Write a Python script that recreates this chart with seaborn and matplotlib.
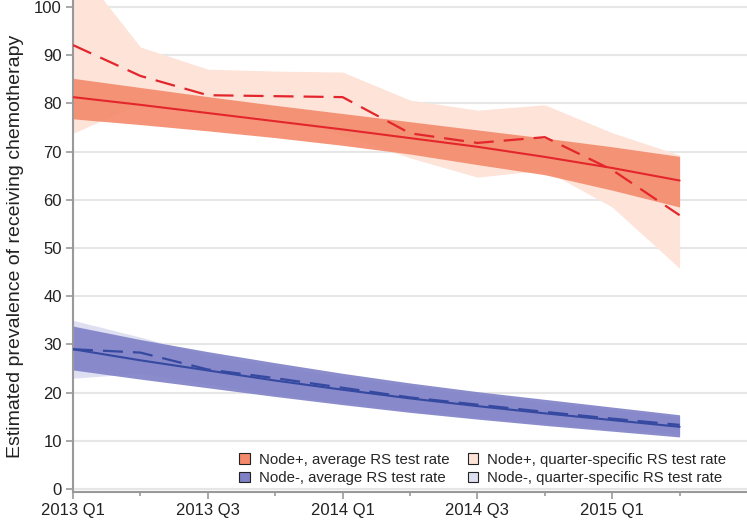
import numpy as np
import pandas as pd
import seaborn as sns
import matplotlib.pyplot as plt
from matplotlib.patches import Patch

# quarters 2013 Q1 .. 2015 Q2
quarters = np.arange(10)
tick_pos = [0, 2, 4, 6, 8]
tick_labels = ['2013 Q1', '2013 Q3', '2014 Q1', '2014 Q3', '2015 Q1']

# Node+, average RS test rate
pos_avg = [81.3, 79.7, 78.0, 76.3, 74.6, 72.8, 71.0, 68.9, 66.6, 64.0]
pos_avg_hi = [85.2, 83.3, 81.4, 79.6, 77.9, 76.2, 74.5, 72.8, 71.0, 69.0]
pos_avg_lo = [76.8, 75.6, 74.3, 72.9, 71.3, 69.5, 67.3, 65.2, 62.0, 58.5]

# Node+, quarter-specific RS test rate
pos_q = [92.1, 85.7, 81.7, 81.5, 81.3, 73.8, 71.8, 73.0, 66.2, 56.8]
pos_q_hi = [109.5, 91.7, 87.1, 86.7, 86.5, 80.7, 78.6, 79.7, 73.9, 69.3]
pos_q_lo = [73.8, 80.0, 78.0, 77.0, 73.5, 68.7, 64.7, 66.2, 58.5, 45.8]

# Node-, average RS test rate
neg_avg = [29.0, 26.7, 24.6, 22.5, 20.6, 18.8, 17.2, 15.7, 14.3, 12.9]
neg_avg_hi = [33.8, 31.0, 28.5, 26.2, 24.0, 22.0, 20.2, 18.6, 17.0, 15.4]
neg_avg_lo = [24.7, 22.8, 21.0, 19.2, 17.5, 15.9, 14.5, 13.2, 12.0, 10.8]

# Node-, quarter-specific RS test rate
neg_q = [29.0, 28.3, 24.8, 23.0, 21.0, 19.0, 17.5, 16.0, 14.6, 13.3]
neg_q_hi = [35.0, 31.5, 27.8, 25.5, 23.3, 21.4, 19.6, 18.0, 16.5, 15.0]
neg_q_lo = [23.0, 24.0, 21.7, 19.6, 17.9, 16.2, 14.8, 13.5, 12.3, 11.5]

sns.set_theme(style='white')
plt.rcParams['font.family'] = ['Liberation Sans', 'DejaVu Sans']

fig = plt.figure(figsize=(7.47, 5.2), dpi=100)
ax = fig.add_axes([73 / 747, 28 / 520, 1 - 73 / 747, 492 / 520])

red = '#e3262b'
blue = '#3549a0'

# bands
ax.fill_between(quarters, pos_q_lo, pos_q_hi, color='#fde3d8', lw=0, zorder=1)
ax.fill_between(quarters, pos_avg_lo, pos_avg_hi, color='#f4896b', alpha=0.9, lw=0, zorder=2)
ax.fill_between(quarters, neg_q_lo, neg_q_hi, color='#dedff0', lw=0, zorder=1)
ax.fill_between(quarters, neg_avg_lo, neg_avg_hi, color='#7f80c6', alpha=0.9, lw=0, zorder=2)

# lines
sns.lineplot(x=quarters, y=pos_avg, color=red, lw=1.5, ax=ax, zorder=3)
sns.lineplot(x=quarters, y=pos_q, color=red, lw=1.6, ax=ax, zorder=3)
ax.lines[-1].set_dashes((9, 4.5))
sns.lineplot(x=quarters, y=neg_avg, color=blue, lw=1.5, ax=ax, zorder=3)
sns.lineplot(x=quarters, y=neg_q, color=blue, lw=1.6, ax=ax, zorder=3)
ax.lines[-1].set_dashes((9, 4.5))

ax.set_xlim(0, 10)
ax.set_ylim(-0.62, 101.45)
ax.set_yticks(range(0, 101, 10))
ax.set_xticks(tick_pos)
ax.set_xticklabels(tick_labels)
ax.set_xticks([1, 3, 5, 7, 9], minor=True)
ax.yaxis.grid(True, color='#e6e6e6', lw=1.5)
ax.set_axisbelow(True)

for s in ['top', 'right']:
    ax.spines[s].set_visible(False)
for s in ['left', 'bottom']:
    ax.spines[s].set_color('#999999')
    ax.spines[s].set_linewidth(1.5)

ax.tick_params(axis='both', which='major', direction='out', length=5, width=1.2,
               color='#999999', labelsize=12, labelcolor='#222222', left=True, bottom=True,
               pad=3)
ax.tick_params(axis='x', which='minor', direction='out', length=3, width=1.2,
               color='#999999', bottom=True)
ax.set_ylabel('Estimated prevalence of receiving chemotherapy', fontsize=14,
              color='#222222', labelpad=7)

handles = [
    Patch(facecolor='#f4896b', edgecolor='#222222', lw=0.8, label='Node+, average RS test rate'),
    Patch(facecolor='#7f80c6', edgecolor='#222222', lw=0.8, label='Node-, average RS test rate'),
    Patch(facecolor='#fde3d8', edgecolor='#222222', lw=0.8, label='Node+, quarter-specific RS test rate'),
    Patch(facecolor='#dedff0', edgecolor='#222222', lw=0.8, label='Node-, quarter-specific RS test rate'),
]
ax.legend(handles=handles, ncol=2, loc='lower right', bbox_to_anchor=(0.978, 0.002),
          frameon=False, fontsize=10.8, handlelength=0.7, handleheight=0.7,
          handletextpad=0.6, columnspacing=1.2, labelspacing=0.3, borderaxespad=0.0)

fig.savefig('out.png', dpi=100)
